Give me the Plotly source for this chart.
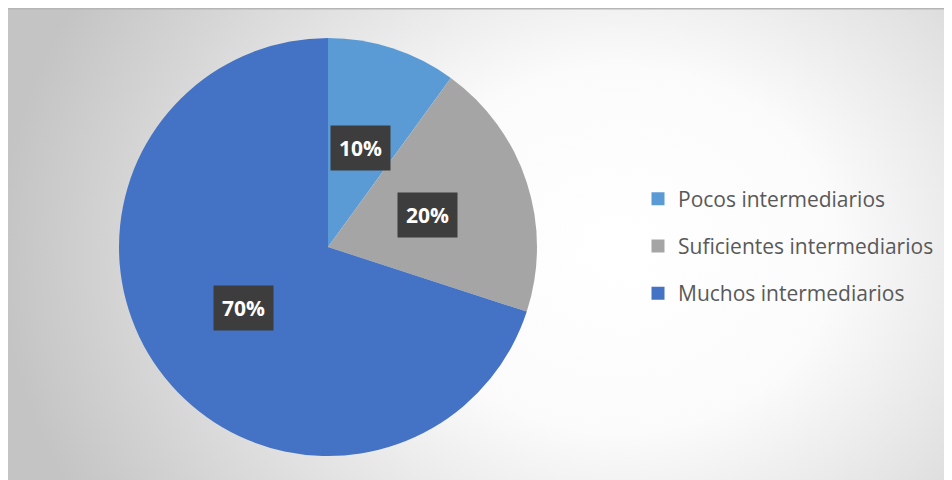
import math, base64
import plotly.graph_objects as go

labels = ["Pocos intermediarios", "Suficientes intermediarios", "Muchos intermediarios"]
values = [10, 20, 70]
colors = ["#5B9BD5", "#A5A5A5", "#4472C4"]

W, H = 952, 480
cx_px, cy_px, r_px = 320, 239, 209

svg = """<svg xmlns='http://www.w3.org/2000/svg' width='952' height='480' viewBox='0 0 952 480' preserveAspectRatio='none'>
<defs><radialGradient id='g' gradientUnits='userSpaceOnUse' cx='612' cy='242' r='620'
 gradientTransform='translate(612 242) scale(1 0.84) translate(-612 -242)'>
<stop offset='0' stop-color='#ffffff'/><stop offset='0.35' stop-color='#fbfbfb'/><stop offset='1' stop-color='#c4c4c4'/>
</radialGradient></defs>
<rect x='0' y='0' width='952' height='480' fill='url(#g)'/>
<line x1='0' y1='0.5' x2='952' y2='0.5' stroke='#b5b5b5' stroke-width='2'/>
<line x1='939.5' y1='0' x2='939.5' y2='480' stroke='#c8c8c8' stroke-width='1.5'/>
</svg>"""
src = "data:image/svg+xml;base64," + base64.b64encode(svg.encode()).decode()

fig = go.Figure()
fig.add_trace(go.Pie(
    labels=labels, values=values, sort=False, direction="clockwise", rotation=0,
    marker=dict(colors=colors, line=dict(width=0)),
    textinfo="none", hoverinfo="label+percent", showlegend=False,
    domain=dict(x=[(cx_px - r_px) / W, (cx_px + r_px) / W],
                y=[1 - (cy_px + r_px) / H, 1 - (cy_px - r_px) / H]),
))

# legend entries (one per slice) so spacing between items can be controlled
for i, (lab, col) in enumerate(zip(labels, colors)):
    fig.add_trace(go.Scatter(
        x=[None], y=[None], mode="markers", name=lab, legendgroup="g%d" % i,
        marker=dict(symbol="square", size=13, color=col), showlegend=True,
        hoverinfo="skip",
    ))

total = sum(values)
cum = 0
annotations = []
for v in values:
    mid = (cum + v / 2) / total * 2 * math.pi
    cum += v
    x = (cx_px + 0.5 * r_px * math.sin(mid)) / W
    y = 1 - (cy_px - 0.5 * r_px * math.cos(mid)) / H
    annotations.append(dict(
        x=x, y=y, xref="paper", yref="paper", showarrow=False,
        text="<b>%d%%</b>" % round(v / total * 100),
        font=dict(family="Open Sans", size=21, color="white"),
        bgcolor="#3d3d3d", borderpad=8, xanchor="center", yanchor="middle",
    ))

fig.update_layout(
    width=W, height=H, margin=dict(l=0, r=0, t=0, b=0),
    paper_bgcolor="white", plot_bgcolor="rgba(0,0,0,0)",
    xaxis=dict(visible=False), yaxis=dict(visible=False),
    images=[dict(source=src, xref="paper", yref="paper", x=0, y=1,
                 sizex=1, sizey=1, xanchor="left", yanchor="top",
                 sizing="stretch", layer="below")],
    showlegend=True,
    legend=dict(x=630 / W, y=1 - 238 / H, xanchor="left", yanchor="middle",
                font=dict(family="Open Sans", size=21, color="#595959"),
                bgcolor="rgba(0,0,0,0)", itemwidth=30, tracegroupgap=17,
                itemclick=False, itemdoubleclick=False),
    annotations=annotations,
)

fig.write_html("out.html")
